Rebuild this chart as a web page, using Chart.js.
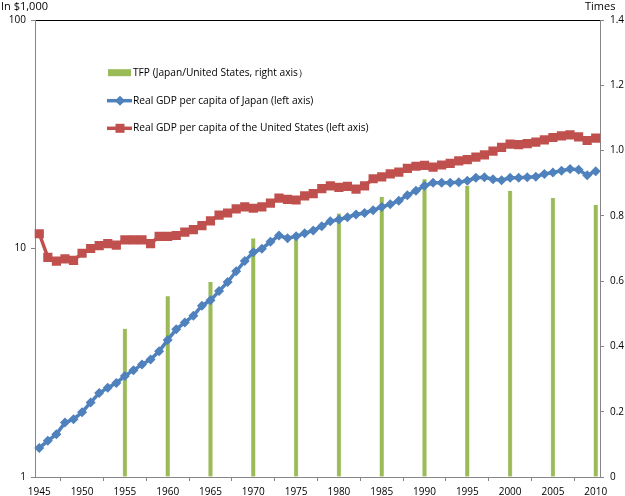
<!DOCTYPE html>
<html>
<head>
<meta charset="utf-8">
<title>Real GDP per capita and TFP, Japan and United States</title>
<script src="https://cdn.jsdelivr.net/npm/chart.js@4.4.0/dist/chart.umd.min.js"></script>
<style>
  html, body { margin: 0; padding: 0; background: #fff; }
  #wrap { position: relative; width: 625px; height: 496px; }
</style>
</head>
<body>
<div id="wrap"><canvas id="gdpChart"></canvas></div>
<script>
// categories (one per year)
const years = [
  1945, 1946, 1947, 1948, 1949, 1950, 1951, 1952, 1953, 1954,
  1955, 1956, 1957, 1958, 1959, 1960, 1961, 1962, 1963, 1964,
  1965, 1966, 1967, 1968, 1969, 1970, 1971, 1972, 1973, 1974,
  1975, 1976, 1977, 1978, 1979, 1980, 1981, 1982, 1983, 1984,
  1985, 1986, 1987, 1988, 1989, 1990, 1991, 1992, 1993, 1994,
  1995, 1996, 1997, 1998, 1999, 2000, 2001, 2002, 2003, 2004,
  2005, 2006, 2007, 2008, 2009, 2010
];

// real GDP per capita, in $1,000 (left, log axis)
const japanGdp = [
  1.34, 1.44, 1.54, 1.73, 1.79, 1.92, 2.12, 2.33, 2.46, 2.58,
  2.77, 2.93, 3.11, 3.27, 3.55, 3.98, 4.43, 4.75, 5.08, 5.62,
  5.93, 6.51, 7.13, 7.95, 8.81, 9.62, 9.98, 10.7, 11.4, 11.1,
  11.3, 11.65, 12.0, 12.5, 13.15, 13.4, 13.7, 14.1, 14.3, 14.7,
  15.2, 15.6, 16.2, 17.1, 17.9, 18.8, 19.4, 19.4, 19.4, 19.5,
  19.8, 20.4, 20.5, 20.1, 19.9, 20.4, 20.4, 20.5, 20.6, 21.2,
  21.5, 21.9, 22.3, 22.1, 20.9, 21.8
];
const usGdp = [
  11.6, 9.15, 8.81, 9.0, 8.87, 9.53, 10.0, 10.3, 10.5, 10.35,
  10.9, 10.9, 10.9, 10.5, 11.3, 11.3, 11.4, 11.8, 12.1, 12.6,
  13.2, 14.0, 14.3, 14.9, 15.2, 15.0, 15.2, 15.8, 16.6, 16.4,
  16.3, 17.0, 17.4, 18.3, 18.8, 18.5, 18.7, 18.2, 18.8, 20.2,
  20.6, 21.2, 21.6, 22.4, 22.9, 23.1, 22.7, 23.2, 23.6, 24.2,
  24.5, 25.1, 25.7, 26.7, 27.7, 28.6, 28.5, 28.8, 29.2, 29.9,
  30.6, 31.1, 31.4, 30.8, 29.7, 30.4
];

// TFP ratio Japan/US (right axis), every 5 years
const tfpYears = [1955, 1960, 1965, 1970, 1975, 1980, 1985, 1990, 1995, 2000, 2005, 2010];
const tfpValues = [0.454, 0.554, 0.597, 0.731, 0.729, 0.807, 0.858, 0.912, 0.892, 0.877, 0.855, 0.833];

// tick labels
const leftTicks = [1, 10, 100];
const rightMax = 1.4;

const GREEN = "#9bbb59";
const BLUE = "#4f81bd";
const RED = "#c0504d";
const AXIS = "#868686";
const FONT = "'Open Sans', 'DejaVu Sans', sans-serif";

// axis unit captions
const captionPlugin = {
  id: "captions",
  afterDraw(chart) {
    const ctx = chart.ctx;
    ctx.save();
    ctx.fillStyle = "#000";
    ctx.font = "11px " + FONT;
    ctx.textBaseline = "middle";
    ctx.textAlign = "left";
    ctx.fillText("In $1,000", 1, 7);
    ctx.fillText("Times", 585, 7);
    ctx.restore();
  }
};

// legend drawn inside the plot area, one entry per row
const legendPlugin = {
  id: "innerLegend",
  afterDraw(chart) {
    const ctx = chart.ctx;
    const rows = [72.7, 100.7, 128.3];
    const order = [2, 0, 1];
    ctx.save();
    ctx.font = "10.2px " + FONT;
    ctx.textBaseline = "middle";
    ctx.fillStyle = "#000";
    order.forEach(function (di, r) {
      const ds = chart.data.datasets[di];
      const y = rows[r];
      if (ds.type === "bar") {
        ctx.fillStyle = GREEN;
        ctx.fillRect(108, y - 3.5, 23, 7);
      } else {
        ctx.strokeStyle = ds.borderColor;
        ctx.lineWidth = 3.5;
        ctx.beginPath();
        ctx.moveTo(107, y);
        ctx.lineTo(132, y);
        ctx.stroke();
        ctx.fillStyle = ds.borderColor;
        ctx.beginPath();
        if (ds.pointStyle === "rectRot") {
          ctx.moveTo(120, y - 5);
          ctx.lineTo(125, y);
          ctx.lineTo(120, y + 5);
          ctx.lineTo(115, y);
          ctx.closePath();
          ctx.fill();
        } else {
          ctx.fillRect(115.5, y - 4.5, 9, 9);
        }
      }
      ctx.fillStyle = "#000";
      ctx.fillText(ds.label, 133, y);
    });
    ctx.restore();
  }
};

const ctx = document.getElementById("gdpChart").getContext("2d");

new Chart(ctx, {
  data: {
    labels: years.map(String),
    datasets: [
      {
        type: "line",
        label: "Real GDP per capita of Japan (left axis)",
        data: japanGdp,
        yAxisID: "yLeft",
        borderColor: BLUE,
        backgroundColor: BLUE,
        borderWidth: 3.5,
        pointStyle: "rectRot",
        pointRadius: 5,
        pointBorderWidth: 0,
        tension: 0,
        order: 1
      },
      {
        type: "line",
        label: "Real GDP per capita of the United States (left axis)",
        data: usGdp,
        yAxisID: "yLeft",
        borderColor: RED,
        backgroundColor: RED,
        borderWidth: 3.5,
        pointStyle: "rect",
        pointRadius: 6.5,
        pointBorderWidth: 0,
        tension: 0,
        order: 2
      },
      {
        type: "bar",
        label: "TFP (Japan/United States, right axis\uff09",
        data: tfpYears.map(function (yr, i) { return { x: String(yr), y: tfpValues[i] }; }),
        yAxisID: "yRight",
        backgroundColor: GREEN,
        borderColor: "#c3d69b",
        borderWidth: { left: 0.6, right: 0.6, top: 0, bottom: 0 },
        barThickness: 4,
        order: 3
      }
    ]
  },
  options: {
    responsive: true,
    maintainAspectRatio: false,
    animation: false,
    layout: { padding: { top: 20, left: 0, right: 0, bottom: 0 } },
    plugins: {
      legend: { display: false },
      tooltip: { enabled: false }
    },
    scales: {
      x: {
        type: "category",
        offset: true,
        afterFit(scale) { scale.height = 19; },
        border: { color: AXIS, width: 1 },
        grid: {
          offset: true,
          drawOnChartArea: false,
          drawTicks: true,
          tickLength: 4,
          tickColor: AXIS
        },
        ticks: {
          autoSkip: false,
          maxRotation: 0,
          padding: 5,
          color: "#000",
          font: { family: FONT, size: 10 },
          callback(value) {
            const yr = years[value];
            return yr % 5 === 0 ? String(yr) : null;
          }
        }
      },
      yLeft: {
        type: "logarithmic",
        position: "left",
        min: 1,
        max: 100,
        afterFit(scale) { scale.width = 35; },
        afterBuildTicks(scale) {
          scale.ticks = leftTicks.map(function (v) { return { value: v, major: true }; });
        },
        border: { color: AXIS, width: 1 },
        grid: {
          drawTicks: true,
          tickLength: 4,
          tickColor: AXIS,
          color(c) { return c.tick && c.tick.value === 100 ? "#000" : "rgba(0,0,0,0)"; },
          lineWidth: 1
        },
        ticks: {
          padding: 5,
          color: "#000",
          font: { family: FONT, size: 10 },
          callback(value) { return String(value); }
        }
      },
      yRight: {
        type: "linear",
        position: "right",
        min: 0,
        max: rightMax,
        afterFit(scale) { scale.width = 25; },
        border: { color: AXIS, width: 1 },
        grid: {
          drawOnChartArea: false,
          drawTicks: true,
          tickLength: 4,
          tickColor: AXIS
        },
        ticks: {
          stepSize: 0.2,
          padding: 6,
          color: "#000",
          font: { family: FONT, size: 10 }
        }
      }
    }
  },
  plugins: [captionPlugin, legendPlugin]
});
</script>
</body>
</html>
